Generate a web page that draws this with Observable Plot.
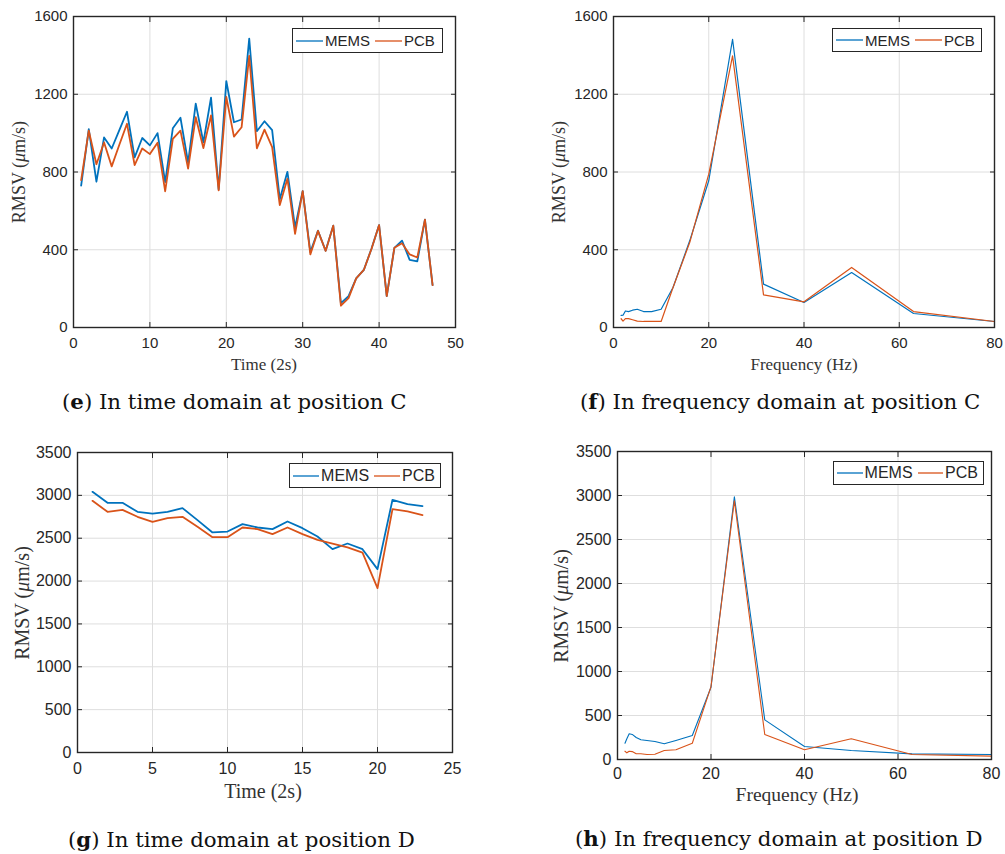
<!DOCTYPE html>
<html>
<head>
<meta charset="utf-8">
<script src="https://cdn.jsdelivr.net/npm/d3@7"></script>
<script src="https://cdn.jsdelivr.net/npm/@observablehq/plot@0.6"></script>
<style>
  body { margin: 0; background: #fff; }
  #root { position: relative; width: 1005px; height: 854px; overflow: hidden; }
  .panel { position: absolute; }
  .legend { position: absolute; box-sizing: border-box; border: 1px solid #262626; background: #fff;
            display: flex; align-items: center; font-family: "Liberation Sans", Arial, sans-serif;
            font-size: 15px; color: #262626; padding-left: 3px; white-space: nowrap; }
  .legend svg { display: block; }
  .legend span { margin-left: 2px; margin-right: 5px; }
  .xlab, .ylab { position: absolute; font-family: "Liberation Serif", "Times New Roman", serif; color: #333; white-space: nowrap; }
  .xlab { transform: translate(-50%, -50%); }
  .ylab { transform: translate(-50%, -50%) rotate(-90deg); }
  .cap { position: absolute; font-family: "DejaVu Serif", "Liberation Serif", serif; font-size: 21.3px; color: #111; white-space: nowrap; transform: translateY(-50%); }
</style>
</head>
<body>
<div id="root"></div>
<script>
// ---------- data ----------
const seriesNames = ["MEMS", "PCB"];
const seriesColors = ["#0072BD", "#D95319"];

// (e) time domain, position C
const timeC = [1,2,3,4,5,6,7,8,9,10,11,12,13,14,15,16,17,18,19,20,21,22,23,24,25,26,27,28,29,30,31,32,33,34,35,36,37,38,39,40,41,42,43,44,45,46,47];
const memsTimeC = [730,1020,750,978,921,1015,1110,875,975,937,1000,748,1025,1079,848,1152,952,1183,710,1268,1056,1070,1486,1010,1061,1015,660,801,515,702,388,498,395,524,125,161,253,296,405,527,161,410,447,348,340,555,218];
const pcbTimeC  = [758,1013,840,952,829,940,1048,836,921,892,951,701,970,1013,817,1082,923,1091,705,1186,982,1030,1397,922,1018,928,630,765,482,702,376,497,394,524,112,151,253,296,404,527,161,410,433,376,360,555,218];

// (f) frequency domain, position C (1/3-octave bands)
const freqBands = [1.6,2,2.5,3.15,4,5,6.3,8,10,12.5,16,20,25,31.5,40,50,63,80];
const memsFreqC = [62,63,85,82,89,94,82,82,94,206,446,755,1483,223,129,283,72,31];
const pcbFreqC  = [45,33,46,46,40,33,31,31,31,206,437,789,1398,168,132,309,82,31];

// (g) time domain, position D
const timeD = [1,2,3,4,5,6,7,8,9,10,11,12,13,14,15,16,17,18,19,20,21,22,23];
const memsTimeD = [3041,2913,2913,2808,2788,2808,2851,2711,2567,2578,2664,2625,2606,2695,2617,2520,2372,2438,2372,2139,2948,2897,2874];
const pcbTimeD  = [2936,2808,2831,2750,2691,2734,2750,2633,2512,2512,2625,2606,2547,2625,2547,2481,2438,2392,2333,1917,2839,2812,2769];

// (h) frequency domain, position D
const memsFreqD = [185,235,292,285,250,224,216,204,178,216,273,821,2986,450,148,102,64,57];
const pcbFreqD  = [94,76,94,90,65,65,57,60,102,110,185,829,2940,284,110,235,57,38];

// ticks
const xTicksTimeC = [0,10,20,30,40,50];
const yTicksC = [0,400,800,1200,1600];
const xTicksFreq = [0,20,40,60,80];
const xTicksTimeD = [0,5,10,15,20,25];
const yTicksD = [0,500,1000,1500,2000,2500,3000,3500];

// labels
const yLabelPrefix = "RMSV (", yLabelMu = "μ", yLabelSuffix = "m/s)";
const xLabelTime = "Time (2s)";
const xLabelFreq = "Frequency (Hz)";
const captions = [
  ["e", " In time domain at position C"],
  ["f", " In frequency domain at position C"],
  ["g", " In time domain at position D"],
  ["h", " In frequency domain at position D"]
];

// ---------- helpers ----------
function tidy(xs, a, b) {
  const out = [];
  xs.forEach((x, i) => out.push({x, y: a[i], s: seriesNames[0]}));
  xs.forEach((x, i) => out.push({x, y: b[i], s: seriesNames[1]}));
  return out;
}

function panel(cfg) {
  const {xs, a, b, xDomain, yDomain, xTicks, yTicks, width, height, m, fontSize, lineWidth, xPad = 10} = cfg;
  const data = tidy(xs, a, b);
  const fmt = d => String(d);
  const tickStyle = {stroke: "#262626", strokeWidth: 1, tickFormat: () => "", label: null};
  return Plot.plot({
    width, height,
    marginLeft: m[0], marginRight: m[1], marginTop: m[2], marginBottom: m[3],
    x: {domain: xDomain},
    y: {domain: yDomain},
    color: {domain: seriesNames, range: seriesColors},
    style: {fontFamily: "'Liberation Sans', Arial, sans-serif", fontSize: fontSize + "px", color: "#262626", background: "transparent", overflow: "visible"},
    marks: [
      Plot.gridX(xTicks, {stroke: "#dedede", strokeOpacity: 1, strokeWidth: 1}),
      Plot.gridY(yTicks, {stroke: "#dedede", strokeOpacity: 1, strokeWidth: 1}),
      Plot.line(data, {x: "x", y: "y", z: "s", stroke: "s", strokeWidth: lineWidth, strokeLinejoin: "round"}),
      Plot.axisX(xTicks, {anchor: "bottom", tickSize: 0, tickPadding: xPad, label: null, fontSize, tickFormat: fmt}),
      Plot.axisY(yTicks, {anchor: "left", tickSize: 0, tickPadding: 6, label: null, fontSize, tickFormat: fmt}),
      Plot.axisX(xTicks, {anchor: "bottom", tickSize: -5, ...tickStyle}),
      Plot.axisX(xTicks, {anchor: "top", tickSize: -5, ...tickStyle}),
      Plot.axisY(yTicks, {anchor: "left", tickSize: -5, ...tickStyle}),
      Plot.axisY(yTicks, {anchor: "right", tickSize: -5, ...tickStyle}),
      Plot.frame({stroke: "#262626", strokeWidth: 1.4})
    ]
  });
}

const root = document.getElementById("root");
function place(el, left, top) {
  const d = document.createElement("div");
  d.className = "panel";
  d.style.left = left + "px"; d.style.top = top + "px";
  d.appendChild(el);
  root.appendChild(d);
}
function legend(left, top, w, h, fs) {
  const d = document.createElement("div");
  d.className = "legend";
  Object.assign(d.style, {left: left + "px", top: top + "px", width: w + "px", height: h + "px", fontSize: fs + "px"});
  seriesNames.forEach((n, i) => {
    const svg = d3.create("svg").attr("width", 27).attr("height", 4);
    svg.append("line").attr("x1", 0).attr("x2", 27).attr("y1", 2).attr("y2", 2)
      .attr("stroke", seriesColors[i]).attr("stroke-width", 1.3);
    d.appendChild(svg.node());
    const s = document.createElement("span"); s.textContent = n; d.appendChild(s);
  });
  root.appendChild(d);
}
function xlab(text, cx, cy, fs) {
  const d = document.createElement("div");
  d.className = "xlab"; d.textContent = text;
  Object.assign(d.style, {left: cx + "px", top: cy + "px", fontSize: fs + "px"});
  root.appendChild(d);
}
function ylab(cx, cy, fs) {
  const d = document.createElement("div");
  d.className = "ylab";
  d.innerHTML = yLabelPrefix + "<i>" + yLabelMu + "</i>" + yLabelSuffix;
  Object.assign(d.style, {left: cx + "px", top: cy + "px", fontSize: fs + "px"});
  root.appendChild(d);
}
function caption(i, left, cy) {
  const d = document.createElement("div");
  d.className = "cap";
  d.innerHTML = "(<b>" + captions[i][0] + "</b>)" + captions[i][1];
  Object.assign(d.style, {left: left + "px", top: cy + "px"});
  root.appendChild(d);
}

// (e)
place(panel({xs: timeC, a: memsTimeC, b: pcbTimeC, xDomain: [0,50], yDomain: [0,1600], xTicks: xTicksTimeC, yTicks: yTicksC,
  width: 470, height: 355, m: [73,15,16,28], fontSize: 15, lineWidth: 1.8}), 0, 0);
// (f)
place(panel({xs: freqBands, a: memsFreqC, b: pcbFreqC, xDomain: [0,80], yDomain: [0,1600], xTicks: xTicksFreq, yTicks: yTicksC,
  width: 485, height: 355, m: [93,11,16,28], fontSize: 15, lineWidth: 1.2}), 520, 0);
// (g)
place(panel({xs: timeD, a: memsTimeD, b: pcbTimeD, xDomain: [0,25], yDomain: [0,3500], xTicks: xTicksTimeD, yTicks: yTicksD,
  width: 470, height: 345, m: [77,18,12,33], fontSize: 16, lineWidth: 1.8}), 0, 440);
// (h)
place(panel({xs: freqBands, a: memsFreqD, b: pcbFreqD, xDomain: [0,80], yDomain: [0,3500], xTicks: xTicksFreq, yTicks: yTicksD,
  width: 485, height: 345, m: [97,14,11,26], fontSize: 16, lineWidth: 1.1, xPad: 8}), 520, 440);

legend(292, 28, 151, 25, 15);
legend(832, 28, 150, 24, 15);
legend(289, 463, 152, 25, 16);
legend(833, 461, 151, 24, 16);

xlab(xLabelTime, 264, 365, 17);
xlab(xLabelFreq, 804, 365, 17);
xlab(xLabelTime, 263, 791, 20);
xlab(xLabelFreq, 797, 795, 19.5);
ylab(19, 172, 18);
ylab(559, 172, 18);
ylab(22, 603, 20);
ylab(561, 606, 20);

caption(0, 62, 401);
caption(1, 580, 401);
caption(2, 68, 839);
caption(3, 575, 838);
</script>
</body>
</html>
